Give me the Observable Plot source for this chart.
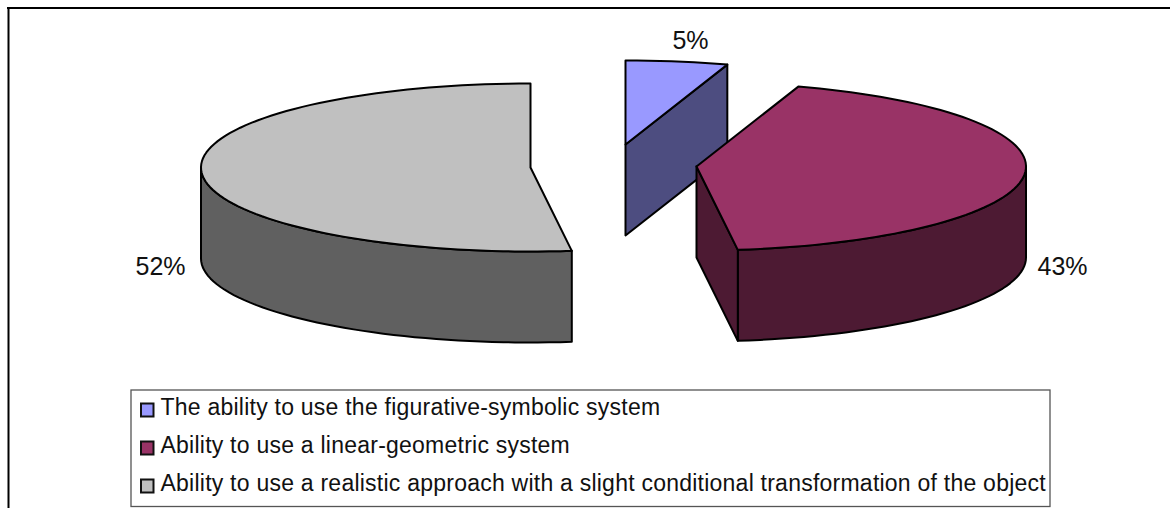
<!DOCTYPE html>
<html><head><meta charset="utf-8">
<script src="https://cdn.jsdelivr.net/npm/d3@7"></script>
<script src="https://cdn.jsdelivr.net/npm/@observablehq/plot@0.6"></script>
<style>html,body{margin:0;padding:0;background:#fff}svg{display:block}</style>
</head><body><div id="c"></div>
<script>
const categories = [
  "The ability to use the figurative-symbolic system",
  "Ability to use a linear-geometric system",
  "Ability to use a realistic approach with a slight conditional transformation of the object"
];
const percents = [5, 43, 52];
const topColors = ["#9999ff", "#993366", "#c0c0c0"];
const sideColors = ["#4d4d80", "#4d1a33", "#606060"];

// layout (pixels of the reference)
const W = 1170, H = 508;
const apexes = [[625, 144], [696, 166], [530, 167]];
const rx = 329.5, ry = 84, depth = 91;
const labelPos = [[690, 40], [1062, 266], [160, 266]];
const legendBox = {x1: 131, x2: 1050, y1: 390, y2: 506.5};
const legendRowY = [407, 445, 483];

const toRad = d => d * Math.PI / 180;
const point = (apex, deg, dy = 0) => ({
  x: apex[0] + rx * Math.sin(toRad(deg)),
  y: apex[1] - ry * Math.cos(toRad(deg)) + dy
});
const arc = (apex, a, b, dy = 0) => {
  const n = Math.max(2, Math.ceil(Math.abs(b - a) / 2));
  return d3.range(n + 1).map(i => point(apex, a + (b - a) * i / n, dy));
};

// slice angles derive from the percentages
let acc = 0;
const slices = percents.map((p, i) => {
  const a = acc * 3.6; acc += p; const b = acc * 3.6;
  return {a, b, apex: apexes[i], i};
});

const P = (x, y) => ({x, y});
const poly = (pts, fill) => Plot.line([...pts, pts[0]], {
  x: "x", y: "y", fill, stroke: "#000", strokeWidth: 2,
  strokeLinejoin: "round", curve: "linear"
});

const topFace = s => [P(...s.apex), ...arc(s.apex, s.a, s.b)];
const rim = s => {
  const a = Math.max(s.a, 90), b = Math.min(s.b, 270);
  return [...arc(s.apex, a, b), ...arc(s.apex, b, a, depth)];
};
const cutFace = (s, deg) => {
  const r = point(s.apex, deg);
  return [P(...s.apex), r, P(r.x, r.y + depth), P(s.apex[0], s.apex[1] + depth)];
};

const [blue, maroon, gray] = slices;
const marks = [
  // outer frame
  Plot.ruleY([7.5], {x1: 7, x2: W, stroke: "#000", strokeWidth: 2}),
  Plot.ruleX([8], {y1: 7, y2: H, stroke: "#000", strokeWidth: 2}),
  // figurative slice
  poly(cutFace(blue, blue.b), sideColors[0]),
  poly(topFace(blue), topColors[0]),
  // linear slice
  poly(rim(maroon), sideColors[1]),
  poly(cutFace(maroon, maroon.b), sideColors[1]),
  poly(topFace(maroon), topColors[1]),
  // realistic slice
  poly(rim(gray), sideColors[2]),
  poly(topFace(gray), topColors[2]),
  // value labels
  Plot.text(percents.map((p, i) => ({t: p + "%", x: labelPos[i][0], y: labelPos[i][1]})), {
    x: "x", y: "y", text: "t", fontSize: 25, fill: "#111", textAnchor: "middle"
  }),
  // legend
  Plot.rect([legendBox], {x1: "x1", x2: "x2", y1: "y1", y2: "y2", fill: "#fff", stroke: "#555", strokeWidth: 1.3}),
  Plot.rect(categories.map((c, i) => ({x1: 141, x2: 153.5, y1: legendRowY[i] - 3.5, y2: legendRowY[i] + 9.5, i})), {
    x1: "x1", x2: "x2", y1: "y1", y2: "y2", fill: d => topColors[d.i], stroke: "#111", strokeWidth: 2
  }),
  Plot.text(categories.map((c, i) => ({c, y: legendRowY[i]})), {
    x: () => 160, y: "y", text: "c", fontSize: 23, fill: "#111", textAnchor: "start",
    style: {letterSpacing: "0.235px"}
  })
];

const chart = Plot.plot({
  width: W, height: H,
  margin: 0,
  style: {fontFamily: "'Liberation Sans', Arial, sans-serif", background: "#fff"},
  x: {domain: [0, W], range: [0, W], axis: null},
  y: {domain: [0, H], range: [0, H], axis: null},
  marks
});
chart.querySelectorAll("text").forEach(t => { if (t.textContent.length > 6) t.style.letterSpacing = "0.235px"; });
document.getElementById("c").append(chart);
</script></body></html>
